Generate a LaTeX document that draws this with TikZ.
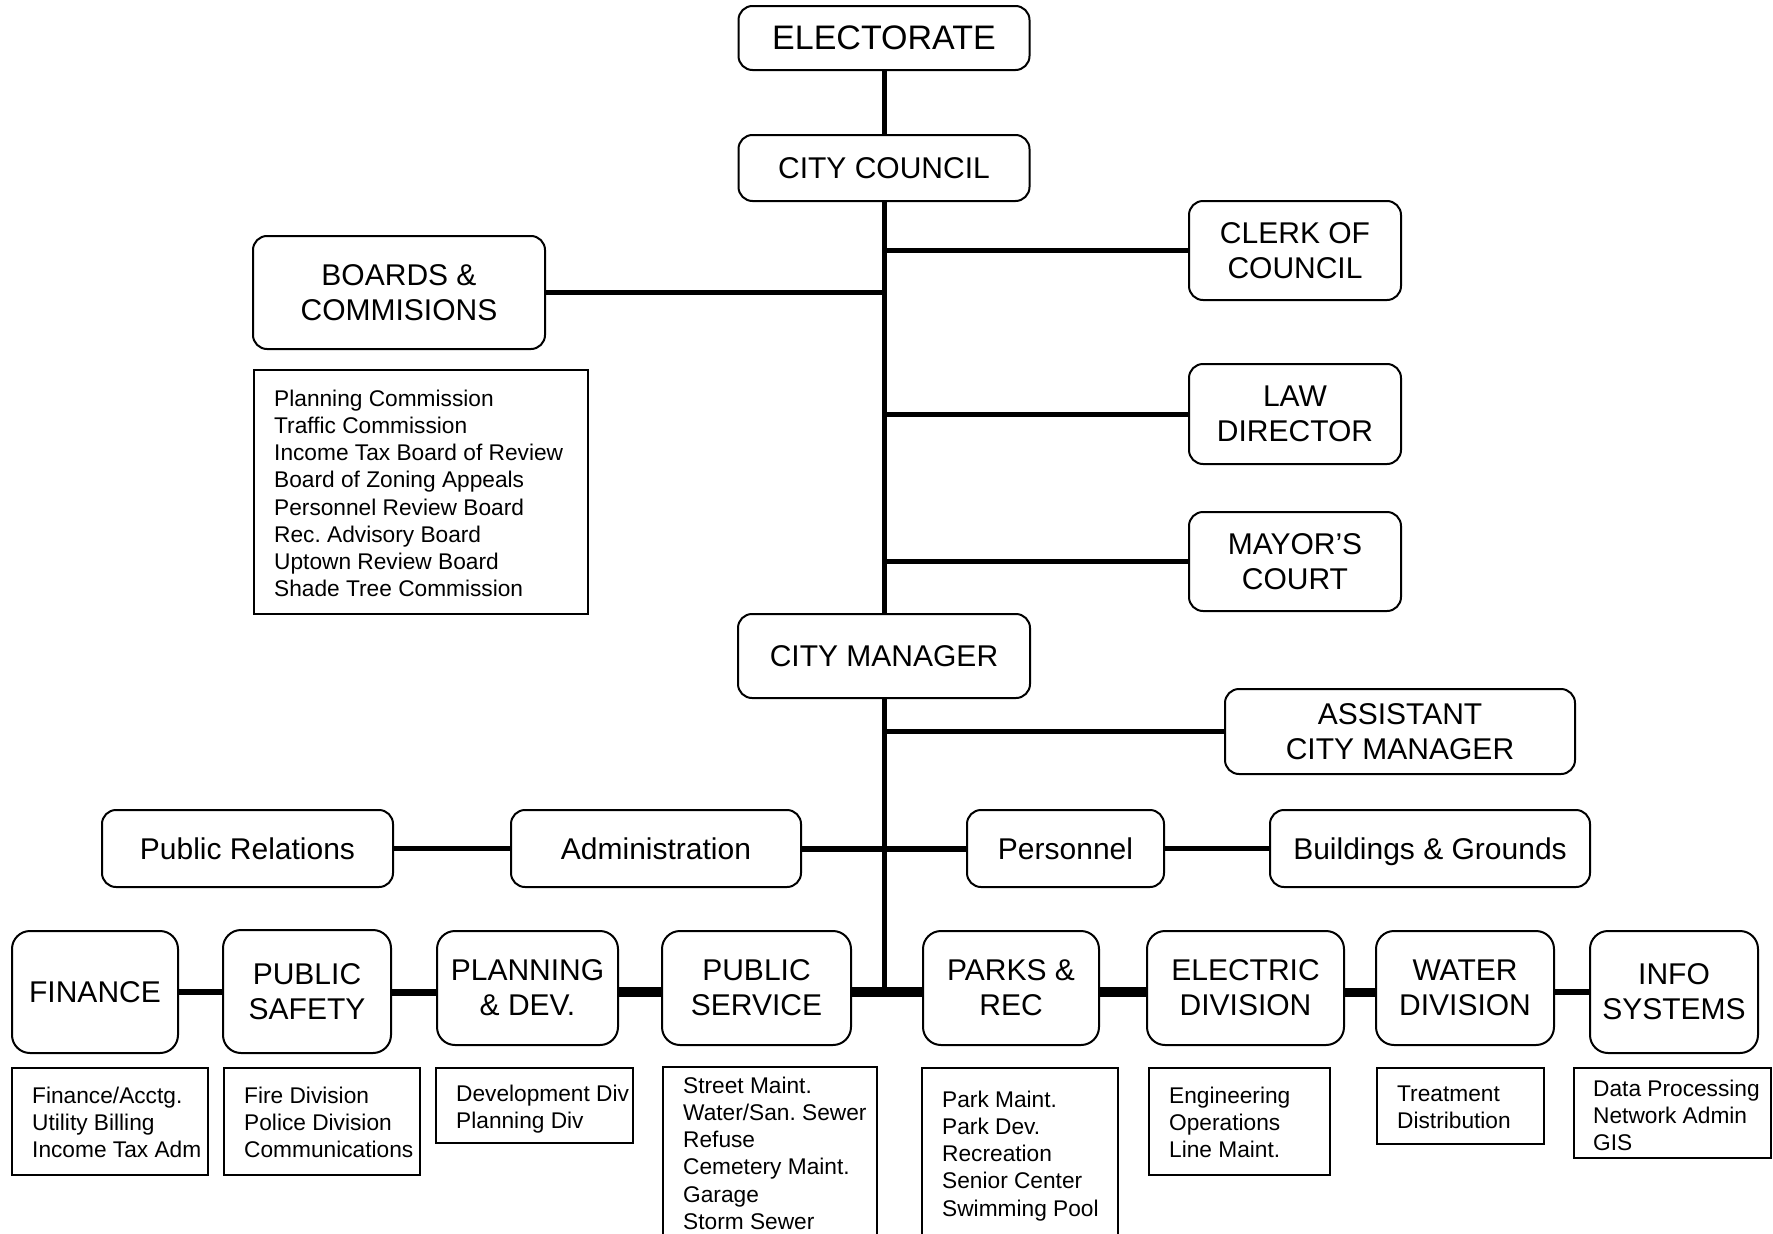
\documentclass[tikz,border=0pt]{standalone}
\usepackage{fontspec}
\setmainfont{Liberation Sans}
\frenchspacing
\begin{document}
\frenchspacing
\begin{tikzpicture}[x=1pt,y=-1pt,
  box/.style={draw, line width=2pt, rounded corners=14pt, inner sep=0pt, align=center,
    font=\fontsize{30}{35}\selectfont},
  dept/.style={box, rounded corners=18pt},
  listbox/.style={draw, line width=2pt, inner sep=0pt},
  items/.style={anchor=north west, inner sep=0pt, align=left,
    font=\fontsize{22.7}{27.2}\selectfont\frenchspacing},
  link/.style={line width=5pt},
]
\useasboundingbox (0,0) rectangle (1773,1234);
\coordinate (row) at (0,992);

% upper column
\node[box, minimum width=291pt, minimum height=64pt, font=\fontsize{34}{38}\selectfont] (elect) at (884,38) {ELECTORATE};
\node[box, minimum width=291pt, minimum height=66pt] (council) at (884,168) {CITY COUNCIL};
\node[box, minimum width=292pt, minimum height=113pt] (boards) at (399,292.5) {BOARDS \&\\COMMISIONS};
\node[box, minimum width=212pt, minimum height=99pt] (clerk) at (1295,250.5) {CLERK OF\\COUNCIL};
\node[box, minimum width=212pt, minimum height=100pt] (law) at (1295,414) {LAW\\DIRECTOR};
\node[box, minimum width=212pt, minimum height=99pt] (mayor) at (1295,561.5) {MAYOR’S\\COURT};
\node[box, minimum width=292pt, minimum height=84pt] (manager) at (884,656) {CITY MANAGER};
\node[box, minimum width=350pt, minimum height=85pt] (asst) at (1400,731.5) {ASSISTANT\\CITY MANAGER};

% staff row
\node[box, minimum width=291pt, minimum height=77pt] (pr) at (247.5,848.5) {Public Relations};
\node[box, minimum width=290pt, minimum height=77pt] (admin) at (656,848.5) {Administration};
\node[box, minimum width=197pt, minimum height=77pt] (pers) at (1065.5,848.5) {Personnel};
\node[box, minimum width=320pt, minimum height=77pt, text depth=0pt] (bg) at (1430,848.5) {Buildings \& Grounds};

% departments
\node[dept, minimum width=166pt, minimum height=122pt] (fin) at (95,992) {FINANCE};
\node[dept, minimum width=168pt, minimum height=123pt] (ps) at (307,991.5) {PUBLIC\\SAFETY};
\node[dept, minimum width=181pt, minimum height=114pt] (plan) at (527.5,988) {PLANNING\\\& DEV.};
\node[dept, minimum width=189pt, minimum height=114pt] (pserv) at (756.5,988) {PUBLIC\\SERVICE};
\node[dept, minimum width=176pt, minimum height=114pt] (parks) at (1011,988) {PARKS \&\\REC};
\node[dept, minimum width=197pt, minimum height=114pt] (elec) at (1245.5,988) {ELECTRIC\\DIVISION};
\node[dept, minimum width=178pt, minimum height=114pt] (water) at (1465,988) {WATER\\DIVISION};
\node[dept, minimum width=168pt, minimum height=122pt] (info) at (1674,992) {INFO\\SYSTEMS};

% list boxes
\node[listbox, minimum width=334pt, minimum height=244pt] (boardlist) at (421,492) {};
\node[listbox, minimum width=196pt, minimum height=107pt] (finlist) at (110,1121.5) {};
\node[listbox, minimum width=196pt, minimum height=107pt] (pslist) at (322,1121.5) {};
\node[listbox, minimum width=197pt, minimum height=75pt] (planlist) at (534.5,1105.5) {};
\node[listbox, minimum width=214pt, minimum height=193pt] (pservlist) at (770,1163.5) {};
\node[listbox, minimum width=196pt, minimum height=192pt] (parkslist) at (1020,1164) {};
\node[listbox, minimum width=181pt, minimum height=107pt] (eleclist) at (1239.5,1121.5) {};
\node[listbox, minimum width=167pt, minimum height=76pt] (waterlist) at (1460.5,1106) {};
\node[listbox, minimum width=197pt, minimum height=90pt] (infolist) at (1672.5,1113) {};

% list texts
\node[items] (boardtext) at (274,389.7) {Planning Commission\\Traffic Commission\\Income Tax Board of Review\\Board of Zoning Appeals\\Personnel Review Board\\Rec. Advisory Board\\Uptown Review Board\\Shade Tree Commission};
\node[items] (fintext) at (32,1086.7) {Finance/Acctg.\\Utility Billing\\Income Tax Adm};
\node[items] (pstext) at (244,1086.7) {Fire Division\\Police Division\\Communications};
\node[items] (plantext) at (456,1084.7) {Development Div\\Planning Div};
\node[items] (pservtext) at (683,1076.7) {Street Maint.\\Water/San. Sewer\\Refuse\\Cemetery Maint.\\Garage\\Storm Sewer};
\node[items] (parkstext) at (942,1090.7) {Park Maint.\\Park Dev.\\Recreation\\Senior Center\\Swimming Pool};
\node[items] (electext) at (1169,1086.7) {Engineering\\Operations\\Line Maint.};
\node[items] (watertext) at (1397,1085.7) {Treatment\\Distribution};
\node[items] (infotext) at (1593,1079.7) {Data Processing\\Network Admin\\GIS};

% spine
\draw[link] (elect.south) -- (council.north);
\draw[link] (council.south) -- (manager.north);
\draw[link] (manager.south) -- (manager.south |- row);

% branches
\draw[link] (boards.east) -- (boards.east -| council.south);
\draw[link] (clerk.west) -- (clerk.west -| council.south);
\draw[link] (law.west) -- (law.west -| council.south);
\draw[link] (mayor.west) -- (mayor.west -| council.south);
\draw[link] (asst.west) -- (asst.west -| manager.south);

% staff row
\draw[link] (pr.east) -- (admin.west);
\draw[line width=6pt] (admin.east) -- (pers.west);
\draw[link] (pers.east) -- (bg.west);

% department row
\draw[line width=6pt] (fin.east |- row) -- (ps.west |- row);
\draw[line width=7pt] (ps.east |- row) -- (plan.west |- row);
\draw[line width=10pt] (plan.east |- row) -- (pserv.west |- row);
\draw[line width=10pt] (pserv.east |- row) -- (parks.west |- row);
\draw[line width=10pt] (parks.east |- row) -- (elec.west |- row);
\draw[line width=9pt] (elec.east |- row) -- (water.west |- row);
\draw[line width=6pt] (water.east |- row) -- (info.west |- row);
\end{tikzpicture}
\end{document}
